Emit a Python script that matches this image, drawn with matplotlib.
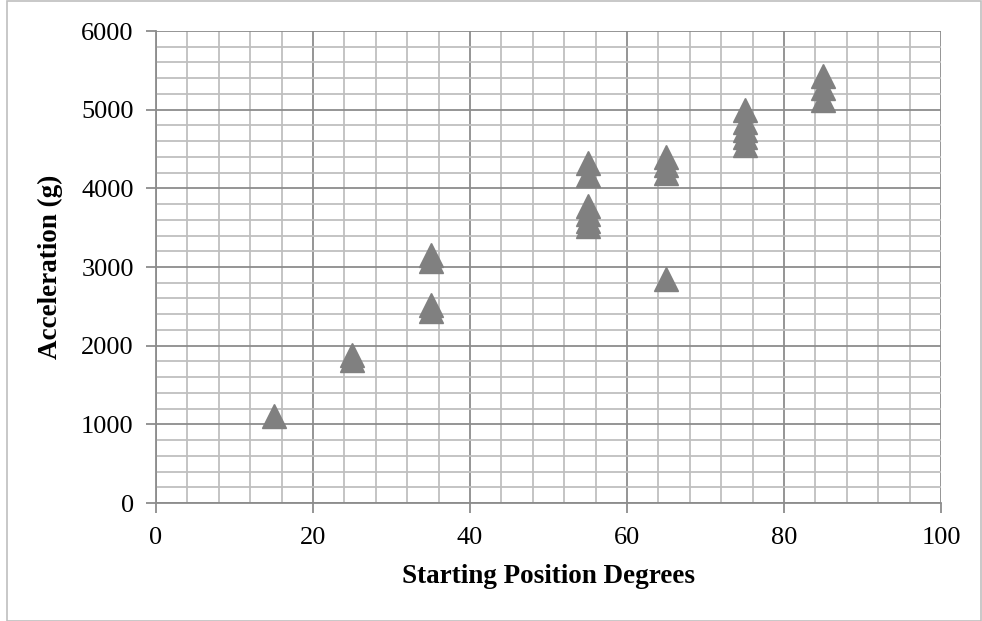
import matplotlib.pyplot as plt
from matplotlib.patches import Rectangle
from matplotlib.ticker import MultipleLocator

# starting position (deg) and measured peak acceleration (g)
position = [15,
            25, 25,
            35, 35, 35, 35,
            55, 55, 55, 55, 55, 55,
            65, 65, 65, 65,
            75, 75, 75, 75, 75,
            85, 85, 85]
accel = [1105,
         1820, 1880,
         3080, 3150, 2440, 2520,
         4320, 4170, 3780, 3680, 3580, 3520,
         4400, 4300, 4200, 2850,
         4990, 4840, 4740, 4650, 4550,
         5430, 5275, 5125]

plt.rcParams['font.family'] = ['Liberation Serif', 'DejaVu Serif']

fig = plt.figure(figsize=(9.82, 6.21), dpi=100)
ax = fig.add_axes([156 / 982, 1 - 503 / 621, (941 - 156) / 982, (503 - 31) / 621])

ax.plot(position, accel, linestyle='none', marker='^', markersize=17,
        color='#808080', zorder=3)

ax.set_xlim(0, 100)
ax.set_ylim(0, 6000)
ax.xaxis.set_major_locator(MultipleLocator(20))
ax.xaxis.set_minor_locator(MultipleLocator(4))
ax.yaxis.set_major_locator(MultipleLocator(1000))
ax.yaxis.set_minor_locator(MultipleLocator(200))

ax.grid(which='major', color='#8c8c8c', linewidth=1.3)
ax.grid(which='minor', color='#bfbfbf', linewidth=1.3)
ax.set_axisbelow(True)

for side in ['top', 'right']:
    ax.spines[side].set_visible(False)
for side in ['left', 'bottom']:
    ax.spines[side].set_color('#8c8c8c')
    ax.spines[side].set_linewidth(1.3)

ax.tick_params(which='major', length=7, width=1.3, color='#8c8c8c',
               labelsize=19)
ax.tick_params(axis='x', which='major', pad=10)
ax.tick_params(axis='y', which='major', pad=9)
ax.tick_params(which='minor', length=0)

ax.set_xlabel('Starting Position Degrees', fontsize=19.5, fontweight='bold',
              labelpad=11)
ax.set_ylabel('Acceleration (g)', fontsize=19.5, fontweight='bold',
              labelpad=13)

# light frame around the whole chart
fig.patches.append(Rectangle((7 / 982, 0.5 / 621), 973.5 / 982, 619.5 / 621,
                             transform=fig.transFigure, fill=False,
                             edgecolor='#bfbfbf', linewidth=1.2))

fig.savefig('out.png', dpi=100)
